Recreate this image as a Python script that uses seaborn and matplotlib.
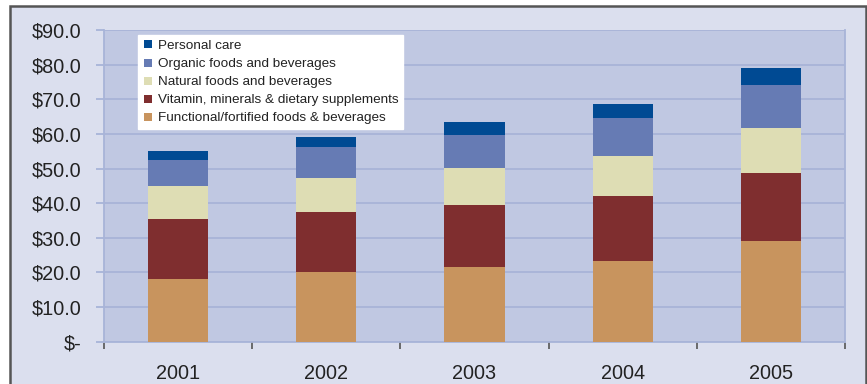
import numpy as np
import pandas as pd
import seaborn as sns
import matplotlib.pyplot as plt
from matplotlib.lines import Line2D
from matplotlib.patches import Rectangle
from matplotlib.ticker import FixedLocator

years = ["2001", "2002", "2003", "2004", "2005"]
functional = [18.1, 20.1, 21.5, 23.3, 29.0]
vitamin = [17.3, 17.3, 17.9, 18.7, 19.7]
natural = [9.5, 9.9, 10.7, 11.6, 13.0]
organic = [7.5, 8.9, 9.5, 10.9, 12.3]
personal = [2.6, 2.8, 3.8, 4.0, 5.0]

series = ["Functional/fortified foods & beverages",
          "Vitamin, minerals & dietary supplements",
          "Natural foods and beverages",
          "Organic foods and beverages",
          "Personal care"]
colors = ["#C8945E", "#7F2E2F", "#DEDDB4", "#667BB4", "#004A93"]

sns.set_style("white")
plt.rcParams['font.family'] = ['Liberation Sans', 'DejaVu Sans']

df = pd.DataFrame({"year": years, series[0]: functional, series[1]: vitamin,
                   series[2]: natural, series[3]: organic, series[4]: personal})
cum = df[series].cumsum(axis=1)

fig = plt.figure(figsize=(8.67, 3.84), dpi=100)
fig.patch.set_facecolor("white")
frame = Rectangle((10 / 867, -0.1), 856 / 867, 1.1 - 6 / 384,
                  transform=fig.transFigure, facecolor="#DBDFEE",
                  edgecolor="#555555", linewidth=1.8, zorder=-10)
fig.add_artist(frame)
ax = fig.add_axes([104 / 867, 1 - 341.7 / 384, 741 / 867, 311.7 / 384])
ax.set_facecolor("#C0C8E2")

# draw the cumulative totals from the top down so each layer covers the next
for name, col in zip(series[::-1], colors[::-1]):
    sns.barplot(x=df["year"], y=cum[name], color=col, width=0.405,
                saturation=1, errorbar=None, ax=ax, zorder=3, linewidth=0)

ax.set_xlim(-0.5, 4.5)
ax.set_ylim(0, 90)
ax.set_yticks(np.arange(0, 91, 10))
ax.set_yticklabels(["$-"] + [f"${v:.1f}" for v in range(10, 91, 10)])
ax.yaxis.grid(True, color="#A8B4D8", linewidth=1.3, zorder=0)
ax.set_axisbelow(True)
ax.set_xlabel("")
ax.set_ylabel("")

ax.xaxis.set_minor_locator(FixedLocator(np.arange(-0.5, 4.6, 1)))
ax.tick_params(axis="x", which="major", length=0, pad=16, labelsize=14.3, labelcolor="#222222")
ax.tick_params(axis="x", which="minor", length=5, width=1.2, color="#555555", direction="out",
               bottom=True)
ax.tick_params(axis="y", length=6, width=1.3, color="#A8B4D8", pad=10, labelsize=14.3,
               labelcolor="#222222", left=True)

for s in ["left", "right", "bottom"]:
    ax.spines[s].set_visible(True)
    ax.spines[s].set_color("#A8B4D8")
    ax.spines[s].set_linewidth(1.3)
ax.spines["top"].set_visible(False)

handles = [Line2D([], [], marker="s", linestyle="none", markersize=6,
                  markerfacecolor=c, markeredgewidth=0) for c in colors[::-1]]
leg = ax.legend(handles, series[::-1], loc="upper left", bbox_to_anchor=(0.046, 0.984),
                frameon=True, fancybox=False, framealpha=1, edgecolor="white",
                facecolor="white", fontsize=9.7, handlelength=0.8, handletextpad=0.3,
                labelspacing=0.42, borderpad=0.35, borderaxespad=0)
for t in leg.get_texts():
    t.set_color("#222222")
leg.set_zorder(5)

fig.savefig("out.png", dpi=100)
